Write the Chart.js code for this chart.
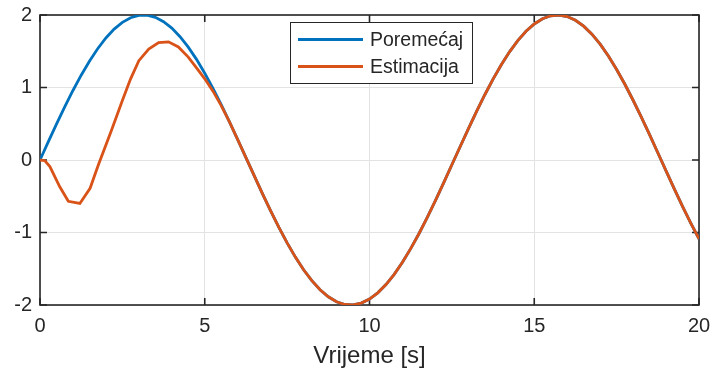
<!DOCTYPE html>
<html><head><meta charset="utf-8">
<script src="https://cdn.jsdelivr.net/npm/chart.js@4.4.0/dist/chart.umd.min.js"></script>
<style>html,body{margin:0;padding:0;background:#fff}#wrap{width:710px;height:371px;position:relative}</style>
</head><body><div id="wrap"><canvas id="c" width="710" height="371"></canvas></div>
<script>
const seriesLabels = ['Poremećaj', 'Estimacija'];
const axisTitle = 'Vrijeme [s]';
const xTicks = [0, 5, 10, 15, 20];
const yTicks = [-2, -1, 0, 1, 2];

const timeDisturbance = [0,0.25,0.5,0.75,1,1.25,1.5,1.75,2,2.25,2.5,2.75,3,3.25,3.5,3.75,4,4.25,4.5,4.75,5,5.25,5.5,5.75,6,6.25,6.5,6.75,7,7.25,7.5,7.75,8,8.25,8.5,8.75,9,9.25,9.5,9.75,10,10.25,10.5,10.75,11,11.25,11.5,11.75,12,12.25,12.5,12.75,13,13.25,13.5,13.75,14,14.25,14.5,14.75,15,15.25,15.5,15.75,16,16.25,16.5,16.75,17,17.25,17.5,17.75,18,18.25,18.5,18.75,19,19.25,19.5,19.75,20];
const disturbance = [0,0.249,0.495,0.733,0.959,1.170,1.363,1.535,1.683,1.805,1.898,1.962,1.995,1.997,1.968,1.908,1.819,1.701,1.556,1.388,1.197,0.988,0.763,0.527,0.282,0.033,-0.216,-0.463,-0.702,-0.930,-1.143,-1.339,-1.514,-1.665,-1.790,-1.887,-1.955,-1.993,-1.999,-1.974,-1.918,-1.832,-1.718,-1.577,-1.411,-1.223,-1.017,-0.794,-0.559,-0.315,-0.066,0.183,0.430,0.670,0.900,1.116,1.314,1.492,1.646,1.775,1.876,1.948,1.989,2.000,1.979,1.927,1.846,1.735,1.597,1.435,1.249,1.045,0.824,0.591,0.349,0.100,-0.150,-0.398,-0.640,-0.870,-1.088];

const timeEstimate = [0,0.15,0.3,0.6,0.86,1.21,1.52,1.77,2.17,2.5,2.75,3,3.3,3.6,3.9,4.2,4.5,4.75,5,5.25,5.5,5.75,6,6.25,6.5,6.75,7,7.25,7.5,7.75,8,8.25,8.5,8.75,9,9.25,9.5,9.75,10,10.25,10.5,10.75,11,11.25,11.5,11.75,12,12.25,12.5,12.75,13,13.25,13.5,13.75,14,14.25,14.5,14.75,15,15.25,15.5,15.75,16,16.25,16.5,16.75,17,17.25,17.5,17.75,18,18.25,18.5,18.75,19,19.25,19.5,19.75,20];
const estimate = [0,-0.01,-0.09,-0.37,-0.57,-0.60,-0.39,-0.07,0.41,0.82,1.12,1.37,1.53,1.62,1.63,1.56,1.42,1.27,1.12,0.95,0.75,0.525,0.282,0.033,-0.216,-0.463,-0.702,-0.930,-1.143,-1.339,-1.514,-1.665,-1.790,-1.887,-1.955,-1.993,-1.999,-1.974,-1.918,-1.832,-1.718,-1.577,-1.411,-1.223,-1.017,-0.794,-0.559,-0.315,-0.066,0.183,0.430,0.670,0.900,1.116,1.314,1.492,1.646,1.775,1.876,1.948,1.989,2.000,1.979,1.927,1.846,1.735,1.597,1.435,1.249,1.045,0.824,0.591,0.349,0.100,-0.150,-0.398,-0.640,-0.870,-1.088];

const colors = ['#0072BD', '#D95319'];
const FONT = '"Liberation Sans", Arial, Helvetica, sans-serif';
const AXIS = '#262626';

const toPts = (xs, ys) => xs.map((x, i) => ({x: x, y: ys[i]}));

const axesBox = {
  id: 'axesBox',
  beforeDatasetsDraw(chart) {
    const {ctx, chartArea: a, scales: {x, y}} = chart;
    ctx.save();
    ctx.strokeStyle = AXIS;
    ctx.lineWidth = 1.6;
    ctx.strokeRect(a.left, a.top, a.right - a.left, a.bottom - a.top);
    const L = 7;
    ctx.beginPath();
    xTicks.forEach(v => {
      const px = x.getPixelForValue(v);
      ctx.moveTo(px, a.bottom); ctx.lineTo(px, a.bottom - L);
      ctx.moveTo(px, a.top); ctx.lineTo(px, a.top + L);
    });
    yTicks.forEach(v => {
      const py = y.getPixelForValue(v);
      ctx.moveTo(a.left, py); ctx.lineTo(a.left + L, py);
      ctx.moveTo(a.right, py); ctx.lineTo(a.right - L, py);
    });
    ctx.stroke();
    ctx.restore();
  },
  afterDatasetsDraw(chart) {
    const {ctx} = chart;
    const bx = 290, by = 22, bw = 182, bh = 61;
    ctx.save();
    ctx.fillStyle = '#fff';
    ctx.fillRect(bx, by, bw, bh);
    ctx.strokeStyle = AXIS;
    ctx.lineWidth = 1;
    ctx.strokeRect(bx + 0.5, by + 0.5, bw, bh);
    const rows = [39.5, 66.5];
    ctx.font = '19.5px ' + FONT;
    ctx.textBaseline = 'middle';
    ctx.textAlign = 'left';
    chart.data.datasets.forEach((ds, i) => {
      ctx.strokeStyle = ds.borderColor;
      ctx.lineWidth = 3;
      ctx.beginPath();
      ctx.moveTo(298, rows[i]); ctx.lineTo(363, rows[i]);
      ctx.stroke();
      ctx.fillStyle = AXIS;
      ctx.fillText(ds.label, 370, rows[i] + 1);
    });
    ctx.restore();
  }
};

new Chart(document.getElementById('c'), {
  type: 'line',
  data: {
    datasets: [
      {label: seriesLabels[0], data: toPts(timeDisturbance, disturbance), borderColor: colors[0], borderWidth: 2.8, pointRadius: 0, tension: 0, fill: false, order: 2},
      {label: seriesLabels[1], data: toPts(timeEstimate, estimate), borderColor: colors[1], borderWidth: 2.8, pointRadius: 0, tension: 0, fill: false, order: 1}
    ]
  },
  options: {
    responsive: false,
    animation: false,
    events: [],
    layout: {padding: {left: 0, right: 11, top: 15, bottom: 0}},
    plugins: {legend: {display: false}, tooltip: {enabled: false}},
    scales: {
      x: {
        type: 'linear', min: 0, max: 20,
        afterBuildTicks: s => { s.ticks = xTicks.map(v => ({value: v})); },
        afterFit: s => { s.height = 66; s.paddingLeft = 0; s.paddingRight = 0; },
        grid: {color: '#e3e3e3', lineWidth: 1, drawTicks: false},
        border: {display: false},
        ticks: {padding: 9, color: AXIS, font: {family: FONT, size: 20}, maxRotation: 0},
        title: {display: true, text: axisTitle, color: AXIS, font: {family: FONT, size: 24}, padding: {top: 0, bottom: 0}}
      },
      y: {
        type: 'linear', min: -2, max: 2,
        afterBuildTicks: s => { s.ticks = yTicks.map(v => ({value: v})); },
        afterFit: s => { s.width = 40; s.paddingTop = 0; s.paddingBottom = 0; },
        grid: {color: '#e3e3e3', lineWidth: 1, drawTicks: false},
        border: {display: false},
        ticks: {padding: 8, color: AXIS, font: {family: FONT, size: 20}}
      }
    }
  },
  plugins: [axesBox]
});
</script>
</body></html>
